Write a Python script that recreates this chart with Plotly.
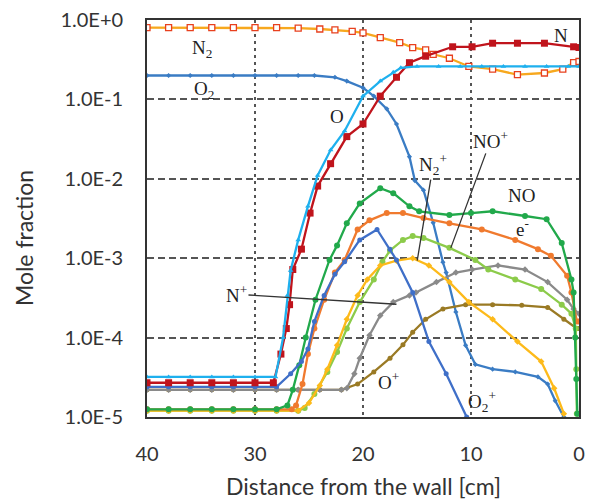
import plotly.graph_objects as go

# ---------------- data (distance from wall [cm], mole fraction) ----------------
n2_d = [40, 38, 36, 34, 32, 30, 28, 26, 24, 22.6, 21, 20, 18.4, 16.6, 15.4, 14.2, 13.5, 12, 10.2, 8, 5.7, 3.2, 1.5, 0.5, 0]
n2_y = [0.8, 0.8, 0.8, 0.8, 0.8, 0.8, 0.8, 0.79, 0.77, 0.75, 0.72, 0.69, 0.6, 0.52, 0.45, 0.42, 0.37, 0.33, 0.26, 0.24, 0.205, 0.215, 0.24, 0.29, 0.3]

o2_d = [40, 38, 36, 34, 32, 30, 28, 26, 24.5, 22.6, 21.5, 20, 19, 17.8, 16.9, 15.7, 15.2, 14.4, 13.5, 12.6, 12.3, 11.4, 10.5, 9.6, 8, 5.9, 3.8, 2.9, 2.2, 1.4]
o2_y = [0.2, 0.2, 0.2, 0.2, 0.2, 0.2, 0.2, 0.2, 0.2, 0.19, 0.17, 0.14, 0.11, 0.076, 0.049, 0.019, 0.0095, 0.0072, 0.0028, 8.9e-4, 6.6e-4, 2.1e-4, 8e-5, 4.6e-5, 4e-5, 3.7e-5, 3.2e-5, 2.6e-5, 1.6e-5, 1e-5]

o_d = [40, 38, 36, 34, 32, 30, 28.1, 27.4, 27.0, 26.7, 26, 25.1, 24.2, 23, 21.7, 20, 18.4, 17.2, 16.5, 15, 13, 11, 9, 7, 5, 3, 1, 0]
o_y = [3.2e-5, 3.2e-5, 3.2e-5, 3.2e-5, 3.2e-5, 3.2e-5, 3.2e-5, 1e-4, 3.4e-4, 7e-4, 1.7e-3, 4.5e-3, 0.011, 0.023, 0.04, 0.11, 0.17, 0.22, 0.25, 0.26, 0.26, 0.26, 0.26, 0.26, 0.26, 0.26, 0.26, 0.26]

n_d = [40, 38, 36, 34, 32, 30, 28.3, 27.6, 27.1, 26.8, 26.5, 25.7, 24.9, 24.2, 23, 21.5, 20, 18.4, 16.9, 15.7, 14.2, 11.7, 9.9, 8, 5.7, 3.2, 0.5, 0]
n_y = [2.7e-5, 2.7e-5, 2.7e-5, 2.7e-5, 2.7e-5, 2.7e-5, 2.7e-5, 6.2e-5, 1.3e-4, 2.6e-4, 7.2e-4, 1.3e-3, 3.7e-3, 8.1e-3, 0.0155, 0.034, 0.049, 0.11, 0.19, 0.29, 0.35, 0.46, 0.46, 0.51, 0.51, 0.51, 0.46, 0.45]

no_d = [40, 38, 36, 34, 32, 30, 28, 27.0, 26.5, 25.9, 25.3, 24.4, 23.1, 22.4, 21.5, 20.3, 18.4, 17.2, 15.7, 14.8, 12, 10, 8, 5, 3, 1.6, 0.7, 0.5, 0.35, 0.25, 0.15]
no_y = [1.25e-5, 1.25e-5, 1.25e-5, 1.25e-5, 1.25e-5, 1.25e-5, 1.25e-5, 1.4e-5, 2.2e-5, 4.5e-5, 1e-4, 3e-4, 9.5e-4, 1.45e-3, 2.75e-3, 4.9e-3, 7.6e-3, 6.6e-3, 4.5e-3, 3.9e-3, 3.5e-3, 3.7e-3, 3.9e-3, 3.4e-3, 3.1e-3, 1.55e-3, 5.4e-4, 3.7e-4, 1e-4, 3e-5, 1.1e-5]

e_d = [40, 38, 36, 34, 32, 30, 28, 26.6, 26.2, 25.6, 25.1, 24.5, 23.6, 22.6, 21.7, 20.5, 19.4, 17.8, 16.3, 14.4, 12, 9, 5.9, 3.8, 2.6, 1.1, 0.7, 0.2, 0]
e_y = [1.25e-5, 1.25e-5, 1.25e-5, 1.25e-5, 1.25e-5, 1.25e-5, 1.25e-5, 1.25e-5, 1.4e-5, 2.6e-5, 6.2e-5, 1.3e-4, 3e-4, 6.6e-4, 9.5e-4, 2.3e-3, 3e-3, 3.7e-3, 3.7e-3, 3.2e-3, 2.75e-3, 2.3e-3, 1.7e-3, 1.3e-3, 1.07e-3, 6e-4, 3.7e-4, 1.6e-4, 1.6e-4]

o2p_d = [40, 38, 36, 34, 32, 30, 28, 26.7, 25.7, 25.1, 24.5, 23.6, 22.6, 21.7, 20.3, 18.7, 17.5, 16.9, 15.4, 13.9, 12.3, 10.4]
o2p_y = [2.4e-5, 2.4e-5, 2.4e-5, 2.4e-5, 2.4e-5, 2.4e-5, 2.4e-5, 3.5e-5, 5e-5, 7.2e-5, 1.6e-4, 3.4e-4, 6.3e-4, 9e-4, 1.7e-3, 2.3e-3, 1.3e-3, 9.5e-4, 3.7e-4, 8.9e-5, 3.5e-5, 1e-5]

n2p_d = [40, 38, 36, 34, 32, 30, 28, 26, 25, 24, 23.3, 22.4, 21.5, 20.5, 19.6, 18.4, 16.9, 15.4, 13.9, 12, 10.2, 8, 5.7, 3.5, 2.3, 1.4]
n2p_y = [1.2e-5, 1.2e-5, 1.2e-5, 1.2e-5, 1.2e-5, 1.2e-5, 1.2e-5, 1.2e-5, 1.5e-5, 2.5e-5, 4e-5, 8e-5, 1.7e-4, 3.4e-4, 5.4e-4, 8.1e-4, 9.3e-4, 1e-3, 8.1e-4, 5e-4, 2.8e-4, 1.7e-4, 8.9e-5, 5e-5, 2.3e-5, 1.1e-5]

nop_d = [40, 38, 36, 34, 32, 30, 28, 26, 25.4, 24.5, 23.3, 22.4, 21.5, 20.3, 19, 18.2, 17.5, 16.3, 15.4, 14.4, 12, 9.6, 8.4, 5.9, 3.5, 1.6, 0.7, 0.3, 0.25, 0.2]
nop_y = [1.2e-5, 1.2e-5, 1.2e-5, 1.2e-5, 1.2e-5, 1.2e-5, 1.2e-5, 1.2e-5, 1.3e-5, 1.95e-5, 3.7e-5, 6.6e-5, 1.3e-4, 2.8e-4, 5.4e-4, 9e-4, 1.25e-3, 1.7e-3, 1.9e-3, 1.8e-3, 1.35e-3, 9.5e-4, 7.2e-4, 5.4e-4, 4.1e-4, 2.6e-4, 2e-4, 1.3e-4, 4e-5, 1.1e-5]

np_d = [40, 38, 36, 34, 32, 30, 28, 26, 24, 22, 21.5, 20.8, 20.3, 19.4, 18.4, 17.2, 15.7, 15.1, 13.2, 11.4, 9.9, 7.5, 5, 2.9, 1.1, 0.5, 0]
np_y = [2.2e-5, 2.2e-5, 2.2e-5, 2.2e-5, 2.2e-5, 2.2e-5, 2.2e-5, 2.2e-5, 2.2e-5, 2.2e-5, 2.3e-5, 3.5e-5, 5.5e-5, 1.07e-4, 1.9e-4, 2.8e-4, 3.4e-4, 3.7e-4, 5e-4, 6.6e-4, 7.2e-4, 8.1e-4, 7.2e-4, 5e-4, 3e-4, 2.3e-4, 2e-4]

op_d = [40, 38, 36, 34, 32, 30, 28, 26, 24, 22, 20.5, 19, 17.5, 16.3, 15.4, 14.2, 12.6, 10.5, 8, 5.3, 2.9, 1.4, 0.2, 0]
op_y = [2.2e-5, 2.2e-5, 2.2e-5, 2.2e-5, 2.2e-5, 2.2e-5, 2.2e-5, 2.2e-5, 2.2e-5, 2.2e-5, 2.6e-5, 3.7e-5, 5.5e-5, 8.1e-5, 1.17e-4, 1.7e-4, 2.3e-4, 2.6e-4, 2.6e-4, 2.55e-4, 2.4e-4, 1.7e-4, 1.3e-4, 1.3e-4]

y_tickvals = [1, 1e-1, 1e-2, 1e-3, 1e-4, 1e-5]
y_ticktext = ["1.0E+0", "1.0E-1", "1.0E-2", "1.0E-3", "1.0E-4", "1.0E-5"]
x_tickvals = [40, 30, 20, 10, 0]
x_ticktext = ["40", "30", "20", "10", "0"]

# ---------------- figure ----------------
fig = go.Figure()

def add(d, y, color, symbol, size=5, open_marker=False, mcolor=None, width=2.3):
    mc = mcolor or color
    marker = dict(symbol=symbol, size=size, color="white" if open_marker else mc,
                  line=dict(color=mc, width=1.3 if open_marker else 0))
    fig.add_trace(go.Scatter(x=d, y=y, mode="lines+markers",
                             line=dict(color=color, width=width),
                             marker=marker, showlegend=False, hoverinfo="skip"))

add(n2_d, n2_y, "#F7A81E", "square", size=6, open_marker=True, mcolor="#E8401E")
add(o2_d, o2_y, "#3A7CC4", "diamond", size=4)
add(op_d, op_y, "#9A7A24", "circle", size=5)
add(np_d, np_y, "#8A8A8A", "diamond", size=5)
add(nop_d, nop_y, "#8CCB4A", "circle", size=6)
add(n2p_d, n2p_y, "#FDBA1A", "diamond", size=5)
add(e_d, e_y, "#F07A2E", "circle", size=6)
add(no_d, no_y, "#21A94B", "circle", size=6)
add(o2p_d, o2p_y, "#3F6FC8", "circle", size=5)
add(n_d, n_y, "#C0141C", "square", size=7)
add(o_d, o_y, "#1EB0EE", "triangle-up", size=5)

lab_font = dict(family="Liberation Serif", size=19, color="#222")
labels = [
    (34.9, -0.37, "N<sub>2</sub>"),
    (34.7, -0.88, "O<sub>2</sub>"),
    (22.4, -1.21, "O"),
    (1.64, -0.19, "N"),
    (5.3, -2.21, "NO"),
    (5.2, -2.62, "e<sup>-</sup>"),
    (17.6, -4.55, "O<sup>+</sup>"),
    (8.95, -4.80, "O<sub>2</sub><sup>+</sup>"),
]
for x, y, t in labels:
    fig.add_annotation(x=x, y=y, text=t, showarrow=False, font=lab_font)

arrows = [
    (16.9, -3.58, "N<sup>+</sup>", -160, -10),
    (14.98, -3.03, "N<sub>2</sub><sup>+</sup>", 16, -96),
    (11.87, -2.87, "NO<sup>+</sup>", 40, -108),
]
for x, y, t, ax, ay in arrows:
    fig.add_annotation(x=x, y=y, text=t, showarrow=True, arrowhead=0, arrowwidth=1.3,
                       arrowcolor="#333", ax=ax, ay=ay, font=lab_font)

ax_font = dict(family="Lato", size=23, color="#333")
fig.add_annotation(xref="paper", yref="paper", x=0.5, y=-0.174, text="Distance from the wall [cm]",
                   showarrow=False, font=ax_font, yanchor="middle")
fig.add_annotation(xref="paper", yref="paper", x=-0.283, y=0.45, text="Mole fraction",
                   showarrow=False, font=ax_font, textangle=-90, xanchor="center")

tick_font = dict(family="Lato", size=20, color="#333")
fig.update_xaxes(range=[40, 0], tickvals=x_tickvals, ticktext=x_ticktext,
                 showgrid=True, gridcolor="#555", gridwidth=2, griddash="3px,4px",
                 showline=True, linecolor="#333", linewidth=1.8, mirror=True,
                 zeroline=False, ticks="", ticklabelstandoff=18,
                 tickfont=tick_font)
fig.update_yaxes(type="log", range=[-5, 0], tickvals=y_tickvals, ticktext=y_ticktext,
                 showgrid=True, gridcolor="#555", gridwidth=1.6, griddash="7px,4px",
                 showline=True, linecolor="#333", linewidth=1.8, mirror=True,
                 zeroline=False, ticks="", ticklabelstandoff=18,
                 tickfont=tick_font)

fig.update_layout(width=592, height=500, margin=dict(l=147, r=7, t=15, b=83),
                  plot_bgcolor="white", paper_bgcolor="white")

fig.write_html("out.html")
